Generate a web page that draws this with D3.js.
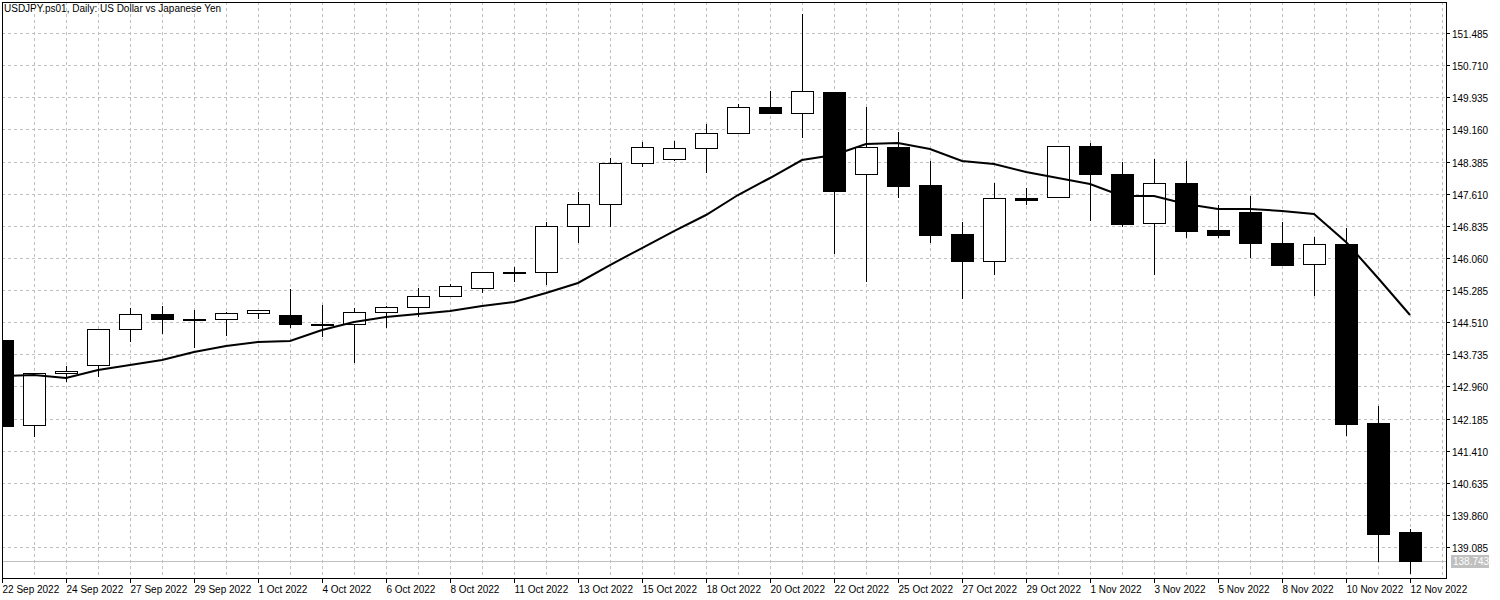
<!DOCTYPE html>
<html><head><meta charset="utf-8">
<script src="https://cdn.jsdelivr.net/npm/d3@7"></script>
<style>body{margin:0;background:#fff}svg text{font-family:"Liberation Sans",Arial,sans-serif;font-size:10px}</style>
</head><body><svg id="c" width="1500" height="600"></svg>
<script>
const dates=["22 Sep 2022","","24 Sep 2022","","27 Sep 2022","","29 Sep 2022","","1 Oct 2022","","4 Oct 2022","","6 Oct 2022","","8 Oct 2022","","11 Oct 2022","","13 Oct 2022","","15 Oct 2022","","18 Oct 2022","","20 Oct 2022","","22 Oct 2022","","25 Oct 2022","","27 Oct 2022","","29 Oct 2022","","1 Nov 2022","","3 Nov 2022","","5 Nov 2022","","8 Nov 2022","","10 Nov 2022","","12 Nov 2022"];
const open=[144.079,142.028,143.283,143.476,144.344,144.706,144.585,144.585,144.730,144.682,144.465,144.465,144.754,144.875,145.140,145.333,145.719,145.719,146.829,147.360,148.349,148.445,148.711,149.072,149.700,149.555,150.062,148.083,148.735,147.818,146.636,145.985,147.504,147.528,148.759,148.083,146.901,147.866,146.732,147.166,146.419,145.912,146.395,142.076,139.447];
const high=[144.079,143.283,143.452,144.344,144.850,144.899,144.802,144.754,144.802,145.309,144.923,144.850,144.899,145.333,145.430,145.719,145.840,146.925,147.649,148.469,148.855,148.879,149.289,149.772,150.086,151.943,150.062,149.700,149.096,148.397,146.925,147.866,147.746,148.759,148.831,148.373,148.445,148.397,147.335,147.552,146.925,146.563,146.780,142.486,139.519];
const low=[142.004,141.739,143.066,143.187,144.031,144.224,143.886,144.175,144.585,144.368,144.151,143.524,144.368,144.633,145.140,145.213,145.478,145.406,146.419,146.804,148.252,148.397,148.108,149.072,149.531,148.952,146.153,145.478,147.504,146.419,145.068,145.647,147.335,147.528,146.949,146.804,145.647,146.539,146.539,146.057,145.864,145.140,141.763,138.723,138.434];
const close=[142.004,143.283,143.331,144.344,144.706,144.585,144.585,144.730,144.802,144.465,144.465,144.754,144.875,145.140,145.381,145.719,145.719,146.829,147.360,148.349,148.735,148.711,149.072,149.700,149.555,150.086,147.673,148.735,147.794,146.611,145.985,147.504,147.456,148.759,148.083,146.877,147.866,146.708,146.611,146.419,145.888,146.395,142.052,139.399,138.743];
const ma=[143.211,143.235,143.163,143.355,143.476,143.597,143.790,143.934,144.031,144.055,144.320,144.513,144.633,144.706,144.778,144.899,144.995,145.213,145.454,145.888,146.298,146.708,147.094,147.577,147.987,148.421,148.542,148.807,148.831,148.687,148.397,148.325,148.132,147.987,147.842,147.552,147.552,147.360,147.239,147.239,147.191,147.118,146.443,145.575,144.682];
const yTicks=[151.485,150.710,149.935,149.160,148.385,147.610,146.835,146.060,145.285,144.510,143.735,142.960,142.185,141.410,140.635,139.860,139.085];
const lastPrice=138.743;
const title="USDJPY.ps01, Daily:  US Dollar vs Japanese Yen";

const svg=d3.select("#c");
const L=2,R=1446,T=2,B=578;
const x=d3.scaleLinear().domain([0,44]).range([2,1410]);
const y=d3.scaleLinear().domain([139.085,151.485]).range([547,33]);
svg.append("defs").append("clipPath").attr("id","cp").append("rect").attr("x",L).attr("y",T).attr("width",R-L).attr("height",B-T);
const g=svg.append("g").attr("clip-path","url(#cp)");
g.selectAll(".hg").data(yTicks).enter().append("line").attr("x1",L).attr("x2",R).attr("y1",d=>Math.round(y(d))+0.5).attr("y2",d=>Math.round(y(d))+0.5).attr("stroke","#c0c0c0").attr("stroke-dasharray","3,3");
g.selectAll(".vg").data(d3.range(1,46)).enter().append("line").attr("x1",d=>Math.round(x(d))+0.5).attr("x2",d=>Math.round(x(d))+0.5).attr("y1",T).attr("y2",B).attr("stroke","#c0c0c0").attr("stroke-dasharray","3,3");
g.append("line").attr("x1",L).attr("x2",R).attr("y1",Math.round(y(lastPrice))+0.5).attr("y2",Math.round(y(lastPrice))+0.5).attr("stroke","#c0c0c0");
const idx=d3.range(open.length);
g.selectAll(".w").data(idx).enter().append("line").attr("x1",i=>Math.round(x(i))+0.5).attr("x2",i=>Math.round(x(i))+0.5).attr("y1",i=>y(high[i])).attr("y2",i=>y(low[i])).attr("stroke","#000");
g.selectAll(".b").data(idx).enter().append("rect")
 .attr("x",i=>Math.round(x(i))-10.5).attr("width",22)
 .attr("y",i=>Math.round(y(Math.max(open[i],close[i])))+0.5)
 .attr("height",i=>Math.max(1,Math.round(Math.abs(y(open[i])-y(close[i])))))
 .attr("fill",i=>close[i]<open[i]?"#000":"#fff").attr("stroke","#000");
g.append("path").datum(idx).attr("d",d3.line().x(i=>x(i)).y(i=>y(ma[i]))).attr("fill","none").attr("stroke","#000").attr("stroke-width",2);
svg.append("rect").attr("x",L+0.5).attr("y",T+0.5).attr("width",R-L).attr("height",B-T).attr("fill","none").attr("stroke","#000");
const ya=svg.append("g");
yTicks.forEach(t=>{const yy=Math.round(y(t))+0.5;
 ya.append("line").attr("x1",R).attr("x2",R+4).attr("y1",yy).attr("y2",yy).attr("stroke","#000");
 ya.append("text").attr("x",R+6).attr("y",yy+4).text(t.toFixed(3));});
const ly=Math.round(y(lastPrice));
svg.append("rect").attr("x",R+5).attr("y",ly-6).attr("width",38).attr("height",13).attr("fill","#c0c0c0");
svg.append("text").attr("x",R+7).attr("y",ly+4).attr("fill","#fff").text(lastPrice.toFixed(3));
dates.forEach((d,i)=>{if(!d)return;const xx=Math.round(x(i))+0.5;
 svg.append("line").attr("x1",xx).attr("x2",xx).attr("y1",B).attr("y2",B+5).attr("stroke","#000");
 svg.append("text").attr("x",xx).attr("y",B+15).text(d);});
svg.append("text").attr("x",4).attr("y",12).text(title);
</script></body></html>
